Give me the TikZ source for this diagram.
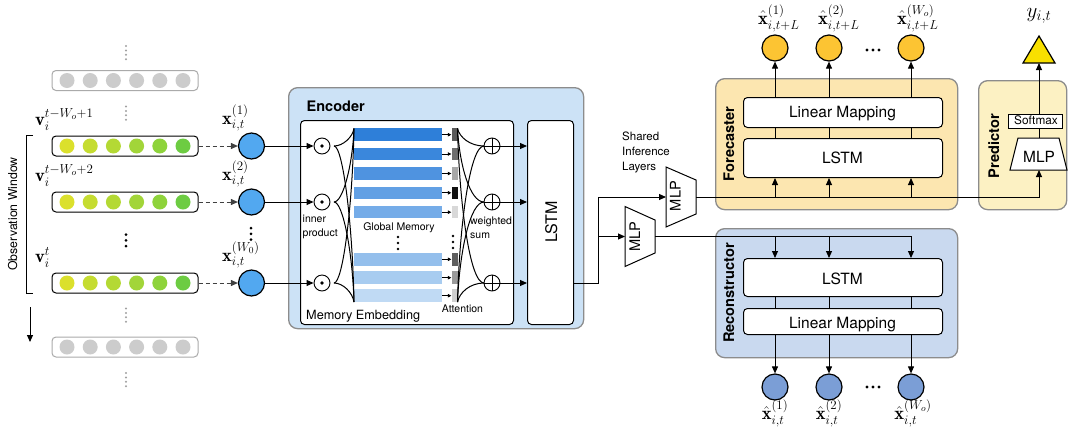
\documentclass[tikz,border=0pt]{standalone}
\usepackage{fix-cm}
\usepackage{amsmath}
\usepackage{fontspec}
\setsansfont{TeX Gyre Heros}
\usetikzlibrary{arrows.meta}

\definecolor{encfill}{HTML}{CCE2F6}
\definecolor{forefill}{HTML}{FCE6B0}
\definecolor{predfill}{HTML}{FCF1C3}
\definecolor{recfill}{HTML}{C9D9EF}
\definecolor{boxborder}{HTML}{8C8C8C}
\definecolor{xblue}{HTML}{52A8F0}
\definecolor{fout}{HTML}{FCC433}
\definecolor{rout}{HTML}{7B9ED6}
\definecolor{tri}{HTML}{F8E000}
\definecolor{gcirc}{HTML}{CCCCCC}
\definecolor{gborder}{HTML}{AAAAAA}
\definecolor{gdot}{HTML}{A0A0A0}
\definecolor{c1}{HTML}{DBE02C}
\definecolor{c2}{HTML}{C5DC31}
\definecolor{c3}{HTML}{B4D934}
\definecolor{c4}{HTML}{A2D539}
\definecolor{c5}{HTML}{8ED33B}
\definecolor{c6}{HTML}{6DCC42}
\definecolor{m1}{HTML}{2E7FD9}
\definecolor{m2}{HTML}{3A87DC}
\definecolor{m3}{HTML}{4F93E0}
\definecolor{m4}{HTML}{62A0E4}
\definecolor{m5}{HTML}{75ACE8}
\definecolor{m6}{HTML}{94BFEC}
\definecolor{m7}{HTML}{A8CCF0}
\definecolor{m8}{HTML}{C0DAF4}
\definecolor{a1}{HTML}{5A5A5A}
\definecolor{a2}{HTML}{6E6E6E}
\definecolor{a3}{HTML}{A8A8A8}
\definecolor{a4}{HTML}{111111}
\definecolor{a5}{HTML}{D8D8D8}
\definecolor{a6}{HTML}{5F5F5F}
\definecolor{a7}{HTML}{9A9A9A}
\definecolor{a8}{HTML}{CFCFCF}

\newcommand\sz[2]{\fontsize{#1}{#2}\selectfont}

\tikzset{
  ar/.style={-{Triangle[length=7pt,width=6pt]}, line width=1pt},
  sar/.style={-{Triangle[length=3.5pt,width=3.5pt]}, line width=0.7pt},
  dar/.style={-{Triangle[length=7pt,width=6pt]}, line width=1pt, draw=darkgray, dash pattern=on 4pt off 3pt},
  cl/.style={line width=1pt},
  module/.style={draw=boxborder, line width=1.3pt, rounded corners=9pt, inner sep=0pt, anchor=north west},
  wbox/.style={draw=black, line width=1pt, fill=white, rounded corners=4pt, inner sep=0pt, anchor=north west},
  lbl/.style={font=\sffamily\sz{15.5}{18}, inner sep=0pt, anchor=base},
  sml/.style={font=\sffamily\sz{10.5}{13}, inner sep=0pt, anchor=base west},
  modlabel/.style={font=\sffamily\bfseries\sz{14.6}{17}, inner sep=0pt, anchor=base, rotate=90},
  mlab/.style={font=\sz{18.5}{21}, inner sep=0pt},
  rowbox/.style={draw=black, line width=1pt, rounded corners=4pt, minimum width=146pt, minimum height=20pt, inner sep=0pt, fill=white},
  growbox/.style={rowbox, draw=gborder},
  dotc/.style={circle, minimum size=15pt, inner sep=0pt, draw=none},
  outc/.style={circle, minimum size=26pt, inner sep=0pt, draw=black, line width=1.2pt},
  opc/.style={circle, minimum size=16pt, inner sep=0pt, draw=black, line width=0.9pt, fill=white},
  membar/.style={minimum width=88pt, minimum height=12.5pt, inner sep=0pt, draw=none},
  attblk/.style={minimum width=6pt, minimum height=12.5pt, inner sep=0pt, draw=none},
  trap/.style={draw=black, line width=1pt, fill=white},
}

\begin{document}
\begin{tikzpicture}[x=1pt,y=-1pt]
\useasboundingbox (0,0) rectangle (1068,429);

% ---------------- left: observation rows ----------------
\node[growbox] (g1) at (125,80.5) {};
\node[rowbox] (r1) at (125,146) {};
\node[rowbox] (r2) at (125,202) {};
\node[rowbox] (r3) at (125,283) {};
\node[growbox] (g2) at (125,347) {};
\foreach \i/\c in {0/c1,1/c2,2/c3,3/c4,4/c5,5/c6}{
  \node[dotc, fill=gcirc] (g1c\i) at ({67+23.2*\i},80.5) {};
  \node[dotc, fill=\c] (r1c\i) at ({67+23.2*\i},146) {};
  \node[dotc, fill=\c] (r2c\i) at ({67+23.2*\i},202) {};
  \node[dotc, fill=\c] (r3c\i) at ({67+23.2*\i},283) {};
  \node[dotc, fill=gcirc] (g2c\i) at ({67+23.2*\i},347) {};
}
% gray dotted separators
\foreach \yy in {46,106.5,308.5,373}{
  \foreach \k in {0,1,2,3} \fill[gdot] (126,{\yy+4.4*\k}) circle (1.1pt);
}
% bold dots
\foreach \k in {0,1,2} \fill (126,{234.5+5.8*\k}) circle (1.5pt);
\foreach \k in {0,1,2} \fill (251,{228+5.8*\k}) circle (1.5pt);

% row labels
\node[mlab, anchor=base west] (v1) at (35,125.5) {$\mathbf{v}_i^{t-W_o+1}$};
\node[mlab, anchor=base west] (v2) at (35,181.5) {$\mathbf{v}_i^{t-W_o+2}$};
\node[mlab, anchor=base west] (v3) at (35,262.5) {$\mathbf{v}_i^{t}$};

% bracket and time arrow
\draw[line width=1pt] (33,135) -- (26,135) -- (26,293) -- (33,293);
\coordinate (ta) at (30,307);
\coordinate (tb) at (30,342);
\draw[ar] (ta) -- (tb);
\node[font=\sffamily\sz{12.3}{14}, inner sep=0pt, anchor=base, rotate=90] (obs) at (17,214) {Observation Window};

% input circles
\node[outc, fill=xblue] (x1) at (251.5,146) {};
\node[outc, fill=xblue] (x2) at (251.5,202) {};
\node[outc, fill=xblue] (x3) at (251.5,283) {};
\node[mlab, anchor=base west] (xl1) at (222,124) {$\mathbf{x}_{i,t}^{(1)}$};
\node[mlab, anchor=base west] (xl2) at (222,180) {$\mathbf{x}_{i,t}^{(2)}$};
\node[mlab, anchor=base west] (xl3) at (222,261) {$\mathbf{x}_{i,t}^{(W_0)}$};
\draw[dar] (r1) -- (x1);
\draw[dar] (r2) -- (x2);
\draw[dar] (r3) -- (x3);

% ---------------- encoder ----------------
\node[module, fill=encfill, minimum width=295pt, minimum height=241pt] (enc) at (288,87) {};
\node[font=\sffamily\bfseries\sz{14.5}{17}, inner sep=0pt, anchor=base west] (enct) at (306.5,111.5) {Encoder};
\node[wbox, minimum width=213pt, minimum height=204pt] (memb) at (300,120) {};
\node[wbox, minimum width=46pt, minimum height=204pt] (elstm) at (527,120) {};
\node[font=\sffamily\sz{16}{18}, inner sep=0pt, anchor=base, rotate=90] (elstmt) at (557,222) {LSTM};

\coordinate (mtl) at (354,128.5);
\coordinate (mbl) at (354,302);
\coordinate (atr) at (457.5,128.5);
\coordinate (abr) at (457.5,302);

\foreach \i/\y/\mc/\ac in {1/134.7/m1/a1, 2/154/m2/a2, 3/173.5/m3/a3, 4/192.8/m4/a4, 5/212.2/m5/a5, 6/259.3/m6/a6, 7/277.7/m7/a7, 8/295.7/m8/a8}{
  \node[membar, fill=\mc, anchor=west] (mb\i) at (354,\y) {};
  \node[attblk, fill=\ac] (at\i) at (454.5,\y) {};
  \draw[sar] (mb\i) -- (at\i);
}

\foreach \i/\y in {1/146,2/202,3/283}{
  \draw[cl] (334,\y) .. controls (343,\y) and (352.5,{128.5+(\y-128.5)*0.5}) .. (mtl);
  \draw[cl] (334,\y) .. controls (343,\y) and (352.5,{302-(302-\y)*0.5}) .. (mbl);
  \draw[cl] (atr) .. controls (459.5,{128.5+(\y-128.5)*0.5}) and (470,\y) .. (484,\y);
  \draw[cl] (abr) .. controls (459.5,{302-(302-\y)*0.5}) and (470,\y) .. (484,\y);
  \node[opc] (od\i) at (322,\y) {};
  \fill (od\i.center) circle (1.8pt);
  \node[opc] (op\i) at (492,\y) {};
  \draw[line width=0.9pt] (op\i.north) -- (op\i.south) (op\i.west) -- (op\i.east);
  \draw[ar] (x\i) -- (od\i);
  \draw[ar] (op\i) -- (op\i -| elstm.west);
}

\foreach \k in {0,1,2} \fill (398,{237+6*\k}) circle (1.4pt);
\foreach \k in {0,1,2} \fill (453,{236+6*\k}) circle (1.4pt);

\node[sml] (ip1) at (302.5,222.3) {inner};
\node[sml] (ip2) at (302.5,236) {product};
\node[sml, anchor=base] (gm) at (399,230.5) {Global Memory};
\node[sml] (ws1) at (470,224) {weighted};
\node[sml] (ws2) at (470,238) {sum};
\node[sml, anchor=base] (attn) at (462.5,312.7) {Attention};
\node[font=\sffamily\sz{12.7}{15}, inner sep=0pt, anchor=base west] (mem) at (306,319) {Memory Embedding};

% ---------------- shared inference layers ----------------
\node[font=\sffamily\sz{11.5}{14}, inner sep=0pt, anchor=base west] (sh1) at (622,140) {Shared};
\node[font=\sffamily\sz{11.5}{14}, inner sep=0pt, anchor=base west] (sh2) at (622,155.5) {Inference};
\node[font=\sffamily\sz{11.5}{14}, inner sep=0pt, anchor=base west] (sh3) at (622,170.5) {Layers};

\draw[trap] (666,167) -- (696,180) -- (696,214) -- (666,227) -- cycle;
\draw[trap] (625,206.5) -- (655,220) -- (655,253) -- (625,266.5) -- cycle;
\node[font=\sffamily\sz{14.6}{17}, inner sep=0pt, anchor=base, rotate=90] (mlp1) at (680.5,196) {MLP};
\node[font=\sffamily\sz{14.6}{17}, inner sep=0pt, anchor=base, rotate=90] (mlp2) at (640,236.5) {MLP};
\coordinate (m1in) at (666,197);
\coordinate (m1out) at (696,197);
\coordinate (m2in) at (625,236.5);
\coordinate (m2out) at (655,236.5);

\coordinate (split) at (598,283);
\draw[cl] (elstm.east |- op3) -- (split) -- (split |- m1in);
\draw[ar] (split |- m1in) -- (m1in);
\draw[ar] (split |- m2in) -- (m2in);

% ---------------- forecaster ----------------
\node[module, fill=forefill, minimum width=242pt, minimum height=131pt] (fore) at (715,78) {};
\node[modlabel] (foret) at (734,144) {Forecaster};
\node[wbox, minimum width=199pt, minimum height=30pt] (flm) at (743,97) {};
\node[wbox, minimum width=199pt, minimum height=39pt] (flstm) at (743,138) {};
\node[lbl] (flmt) at (842.5,117.3) {Linear Mapping};
\node[lbl] (flstmt) at (842.5,163.3) {LSTM};
\node[outc, fill=fout] (fo1) at (775,48) {};
\node[outc, fill=fout] (fo2) at (829,48) {};
\node[outc, fill=fout] (fo3) at (911,48) {};
\node[mlab, anchor=base west] (fl1) at (758,24) {$\hat{\mathbf{x}}_{i,t+L}^{(1)}$};
\node[mlab, anchor=base west] (fl2) at (818,24) {$\hat{\mathbf{x}}_{i,t+L}^{(2)}$};
\node[mlab, anchor=base west] (fl3) at (897,24) {$\hat{\mathbf{x}}_{i,t+L}^{(W_o)}$};
\foreach \k in {0,1,2} \fill (867+6*\k,50) circle (1.6pt);

% ---------------- predictor ----------------
\node[module, fill=predfill, minimum width=88pt, minimum height=129pt] (pred) at (978,80) {};
\node[modlabel] (predt) at (999,146) {Predictor};
\node[draw=black, line width=1pt, fill=white, inner sep=0pt, anchor=north west, minimum width=54pt, minimum height=14pt] (soft) at (1008,114) {};
\node[font=\sffamily\sz{11.8}{14}, inner sep=0pt, anchor=base] (softt) at (1036,124.5) {Softmax};
\draw[trap] (1010,170) -- (1018,138) -- (1059,138) -- (1067,170) -- cycle;
\node[font=\sffamily\sz{15.4}{18}, inner sep=0pt, anchor=base] (pmlp) at (1039,162.7) {MLP};
\coordinate (pmlpb) at (1039,170);
\coordinate (pmlpt) at (1039,138);
\draw[cl] (pmlpt) -- (soft.south -| pmlpt);
\draw[fill=tri, line width=1.2pt] (1039,36) -- (1055,63) -- (1023,63) -- cycle;
\coordinate (tribase) at (1039,63);
\draw[ar] (soft.north -| tribase) -- (tribase);
\node[font=\sz{21}{23}, inner sep=0pt, anchor=base] (yl) at (1039,17.5) {$y_{i,t}$};

% ---------------- reconstructor ----------------
\node[module, fill=recfill, minimum width=242pt, minimum height=129pt] (rec) at (715,228) {};
\node[modlabel] (rect) at (734,293) {Reconstructor};
\node[wbox, minimum width=199pt, minimum height=38pt] (rlstm) at (743,258) {};
\node[wbox, minimum width=199pt, minimum height=26pt] (rlm) at (743,308) {};
\node[lbl] (rlstmt) at (842.5,284) {LSTM};
\node[lbl] (rlmt) at (842.5,328) {Linear Mapping};
\node[outc, fill=rout] (ro1) at (775,387) {};
\node[outc, fill=rout] (ro2) at (829,387) {};
\node[outc, fill=rout] (ro3) at (911,387) {};
\node[mlab, anchor=base] (rl1) at (775,419.5) {$\hat{\mathbf{x}}_{i,t}^{(1)}$};
\node[mlab, anchor=base] (rl2) at (829,419.5) {$\hat{\mathbf{x}}_{i,t}^{(2)}$};
\node[mlab, anchor=base] (rl3) at (913,419.5) {$\hat{\mathbf{x}}_{i,t}^{(W_o)}$};
\foreach \k in {0,1,2} \fill (867+6*\k,387) circle (1.6pt);

% ---------------- decoder connectors ----------------
\draw[ar] (m1out) -| (pmlpb);
\draw[ar] (m2out) -| (rlstm.north -| ro3);
\foreach \i in {1,2,3}{
  \draw[ar] (flm.north -| fo\i) -- (fo\i);
  \draw[cl] (flstm.north -| fo\i) -- (flm.south -| fo\i);
  \draw[ar] (fo\i |- m1out) -- (flstm.south -| fo\i);
  \draw[ar] (rlm.south -| ro\i) -- (ro\i);
  \draw[cl] (rlstm.south -| ro\i) -- (rlm.north -| ro\i);
}
\foreach \i in {1,2}{
  \draw[ar] (ro\i |- m2out) -- (rlstm.north -| ro\i);
}
\end{tikzpicture}
\end{document}
